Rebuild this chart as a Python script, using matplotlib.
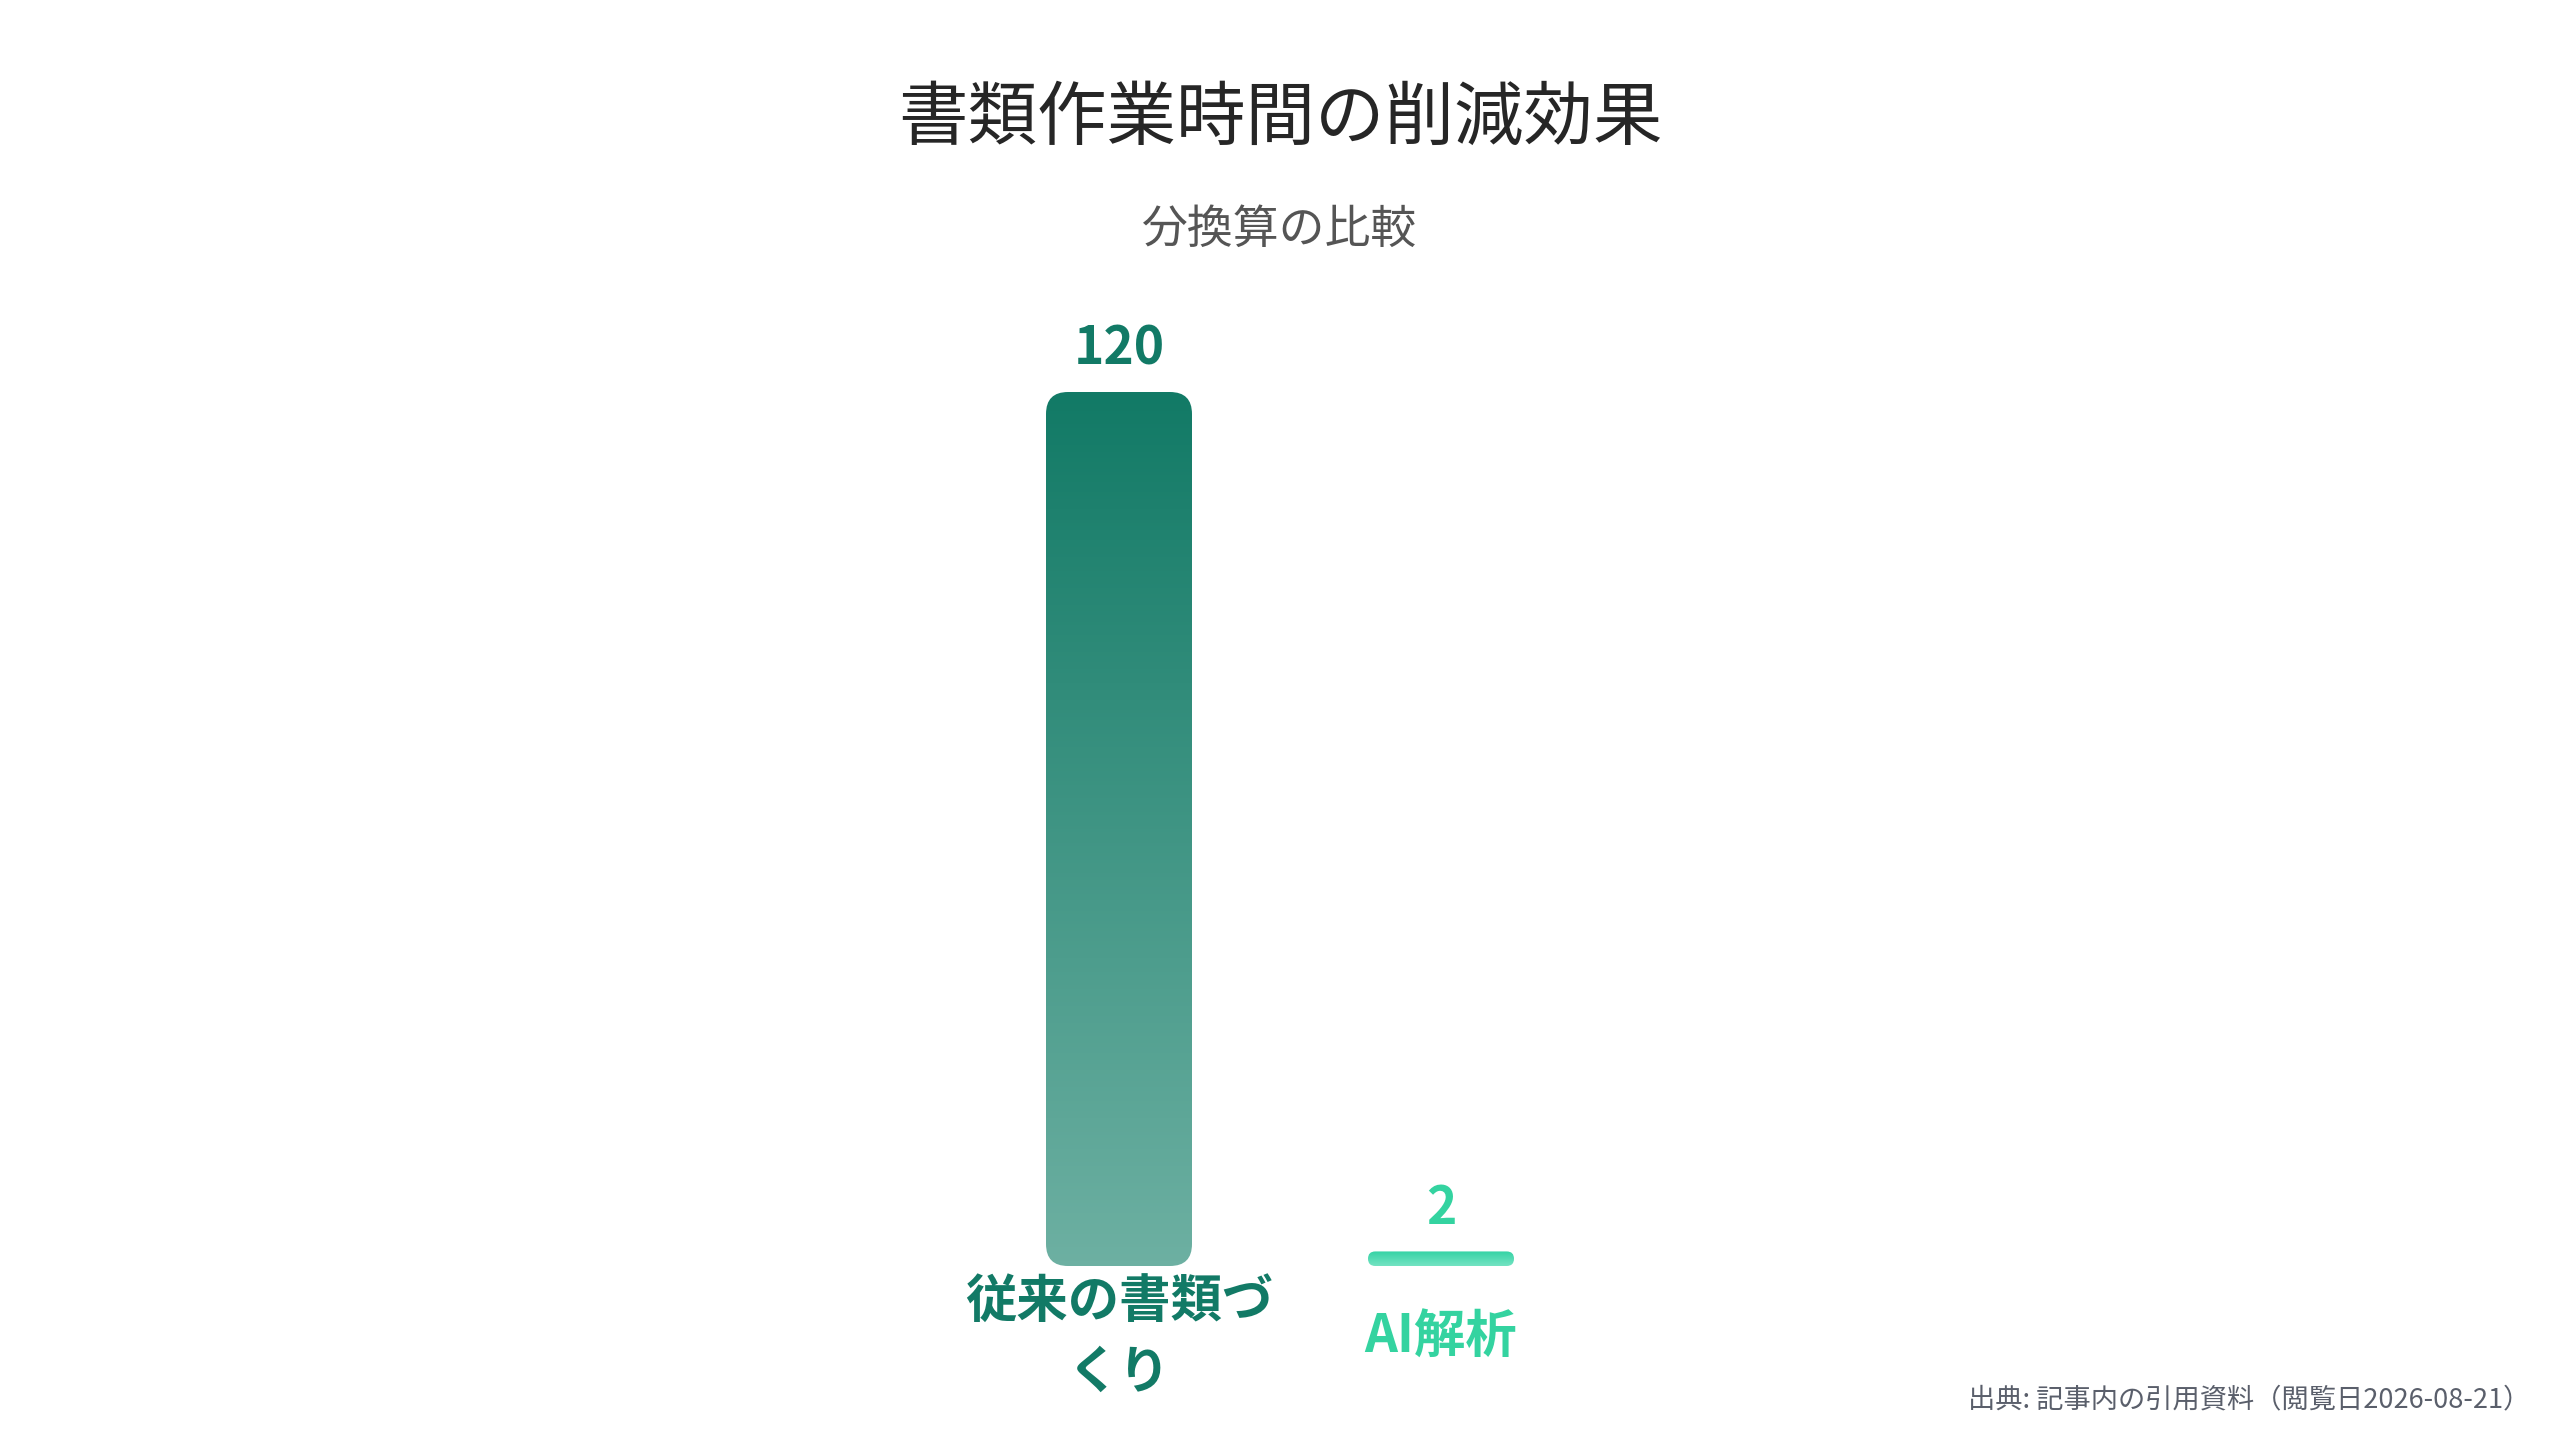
import numpy as np
import matplotlib.pyplot as plt
from matplotlib.patches import FancyBboxPatch
from matplotlib.colors import LinearSegmentedColormap

plt.rcParams['font.family'] = ['Noto Sans CJK JP', 'DejaVu Sans']

# データ
categories = ['従来の書類づ\nくり', 'AI解析']
values = [120, 2]
value_labels = ['120', '2']
top_colors = ['#127a66', '#34d3a5']
bottom_colors = ['#6db0a2', '#74e3c2']
label_colors = ['#127a66', '#34d3a0']

title = '書類作業時間の削減効果'
subtitle = '分換算の比較'
source = '出典: 記事内の引用資料（閲覧日2026-08-21）'

W, H, DPI = 2560, 1440, 100
fig = plt.figure(figsize=(W / DPI, H / DPI), dpi=DPI)
fig.patch.set_facecolor('white')

# 軸の配置（ピクセル基準）
base_px = 174
top_px = 1048
ax = fig.add_axes([0, base_px / H, 1, (top_px - base_px) / H])
spacing_px = 322
center0_px = 1119
ax.axis('off')

bar_w = 146 / spacing_px
px_per_y = (top_px - base_px) / 120.0
radius_px = 22

x = np.arange(len(categories))
for i, (v, c_top, c_bot) in enumerate(zip(values, top_colors, bottom_colors)):
    h_px = v * px_per_y
    r_px = min(radius_px, h_px / 2, 146 / 2)
    r_x = r_px / spacing_px
    aspect = spacing_px / px_per_y
    patch = FancyBboxPatch((x[i] - bar_w / 2, 0), bar_w, v,
                           boxstyle=f'round,pad=0,rounding_size={r_x}',
                           mutation_aspect=aspect,
                           facecolor='none', edgecolor='none')
    ax.add_patch(patch)
    cmap = LinearSegmentedColormap.from_list(f'g{i}', [c_bot, c_top])
    grad = np.linspace(0, 1, 256).reshape(-1, 1)
    im = ax.imshow(grad, cmap=cmap, origin='lower', aspect='auto',
                   extent=[x[i] - bar_w / 2, x[i] + bar_w / 2, 0, v],
                   interpolation='bicubic', zorder=2)
    im.set_clip_path(patch)

    ax.annotate(value_labels[i], xy=(x[i], v), xytext=(0, 43 * 72 / DPI),
                textcoords='offset points', ha='center', va='center',
                fontsize=37, fontweight='bold', color=label_colors[i])
    ax.annotate(categories[i], xy=(x[i], 0), xytext=(0, -71 * 72 / DPI),
                textcoords='offset points', ha='center', va='center',
                fontsize=37, fontweight='bold', color=label_colors[i],
                linespacing=1.4, annotation_clip=False)

ax.set_xlim(-center0_px / spacing_px, (W - center0_px) / spacing_px)
ax.set_ylim(0, 120)

fig.text(0.5, 1 - 119 / H, title, ha='center', va='center',
         fontsize=50, color='#262626')
fig.text(0.5, 1 - 230 / H, subtitle, ha='center', va='center',
         fontsize=33, color='#555555')
fig.text(2530 / W, 1 - 1400 / H, source, ha='right', va='center',
         fontsize=19.6, color='#5a5f6b')

fig.savefig('out.png', dpi=DPI, facecolor='white')
